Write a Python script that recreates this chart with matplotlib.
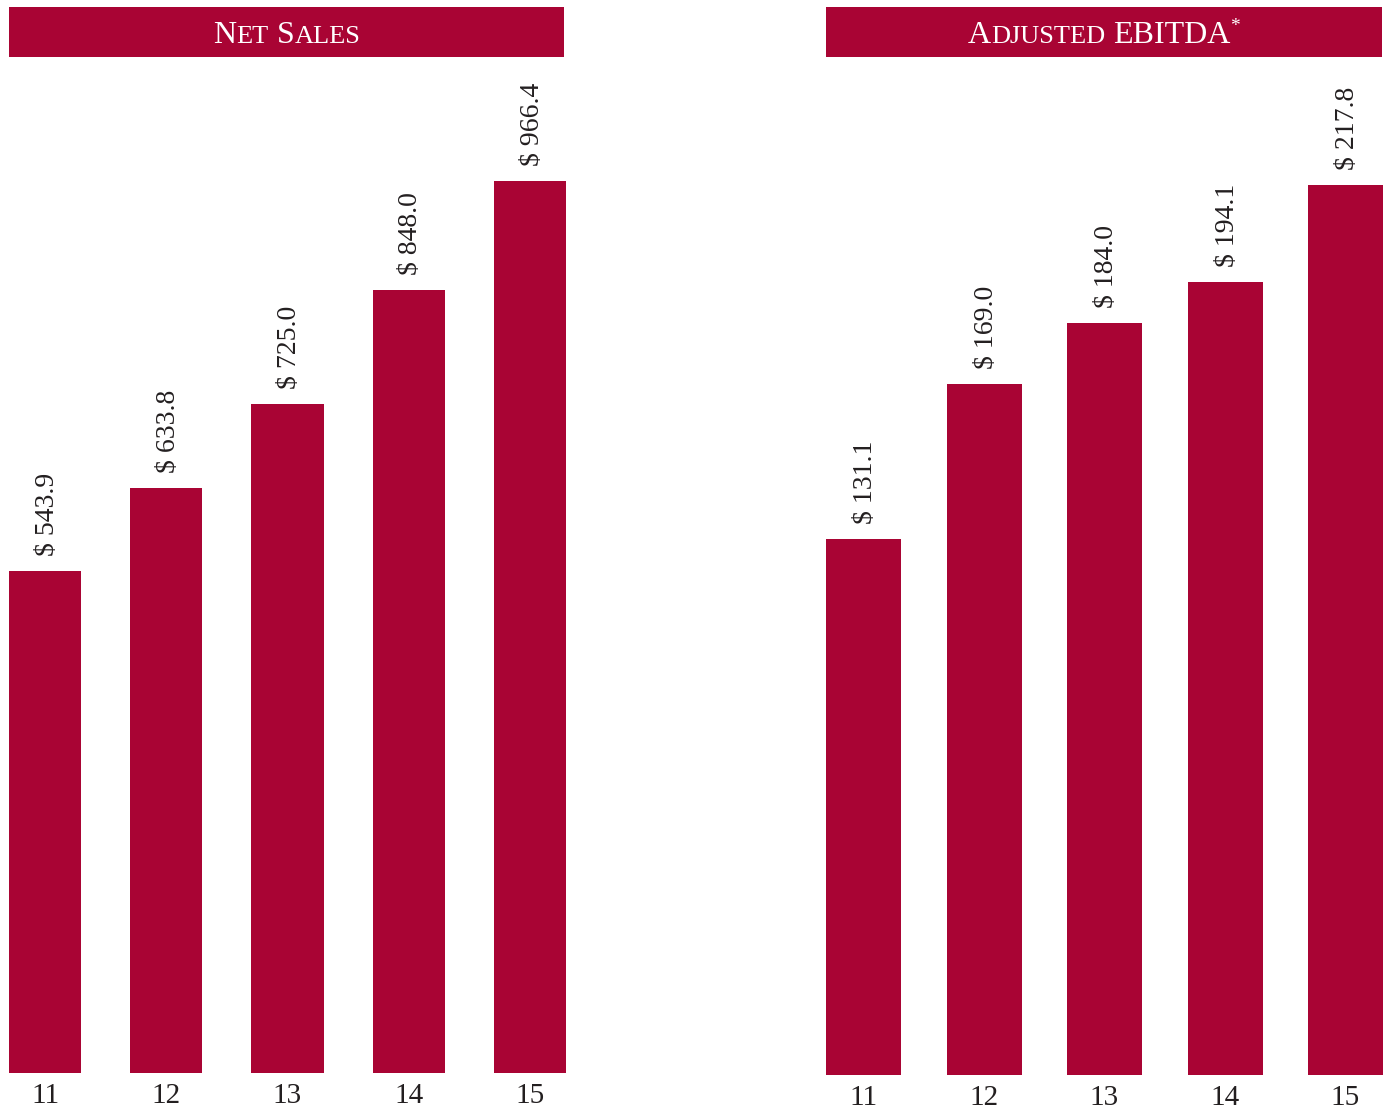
import matplotlib
matplotlib.use("Agg")
import matplotlib.pyplot as plt
from matplotlib.patches import Rectangle

W, H = 1388, 1108
RED = "#A90434"
INK = "#231F20"
FONT = "Liberation Serif"

years = ["11", "12", "13", "14", "15"]
net_sales = [543.9, 633.8, 725.0, 848.0, 966.4]
ebitda = [131.1, 169.0, 184.0, 194.1, 217.8]

fig = plt.figure(figsize=(W / 100, H / 100), dpi=100)
fig.patch.set_facecolor("white")


def px_axes(x0, x1, ybot, ytop):
    # pixel box (from top-left) -> figure fraction axes
    return fig.add_axes([x0 / W, 1 - ybot / H, (x1 - x0) / W, (ybot - ytop) / H])


def bar_panel(ax, vals, bw, px_per_unit, ax_h):
    half = bw / 2
    ax.set_xlim(-half, len(vals) - 1 + half)
    ax.set_ylim(0, ax_h / px_per_unit)
    ax.bar(range(len(vals)), vals, width=bw, color=RED, edgecolor="none")
    for i, v in enumerate(vals):
        ax.annotate(f"$ {v:.1f}", (i, v), xytext=(1.5, 11), textcoords="offset points",
                    rotation=90, ha="center", va="bottom",
                    fontsize=20, family=FONT, color=INK)
    ax.set_xticks(range(len(vals)))
    ax.set_xticklabels(years, fontsize=21, family=FONT, color=INK)
    ax.tick_params(axis="x", length=0, pad=7)
    ax.set_yticks([])
    for s in ax.spines.values():
        s.set_visible(False)
    ax.patch.set_alpha(0)


# left panel: bars 9..566 px, baseline at y=1073
axL = px_axes(9, 566, 1073, 60)
bar_panel(axL, net_sales, 72 / 121.2, 892 / 966.4, 1013)

# right panel: bars 826..1383 px, baseline at y=1075
axR = px_axes(826, 1383, 1075, 60)
bar_panel(axR, ebitda, 75 / 120.5, 890 / 217.8, 1015)


def banner(x0, x1, y0, y1):
    fig.patches.append(Rectangle((x0 / W, 1 - y1 / H), (x1 - x0) / W, (y1 - y0) / H,
                                 transform=fig.transFigure, facecolor=RED,
                                 edgecolor="none", zorder=0))


def small_caps(xc, ybase, pieces):
    # pieces: list of (text, size, raise_px)
    fig.canvas.draw()
    r = fig.canvas.get_renderer()
    objs, widths = [], []
    for txt, size, rise in pieces:
        t = fig.text(0, (H - ybase + rise) / H, txt, fontsize=size, family=FONT,
                     color="white", va="baseline", ha="left")
        objs.append(t)
        if txt == " ":
            widths.append(size * 0.25 * 100 / 72)
        else:
            widths.append(t.get_window_extent(r).width)
    x = xc - sum(widths) / 2
    for t, w in zip(objs, widths):
        t.set_x(x / W)
        x += w


banner(9, 564, 7, 57)
banner(826, 1382, 7, 57)

BIG, SMALL = 23, 19
small_caps(287, 43, [("N", BIG, 0), ("ET", SMALL, 0), (" ", BIG, 0),
                     ("S", BIG, 0), ("ALES", SMALL, 0)])
small_caps(1104, 43, [("A", BIG, 0), ("DJUSTED", SMALL, 0), (" ", BIG, 0),
                      ("EBITDA", BIG, 0), ("*", 14, 12)])

fig.savefig("out.png", dpi=100, facecolor="white")
